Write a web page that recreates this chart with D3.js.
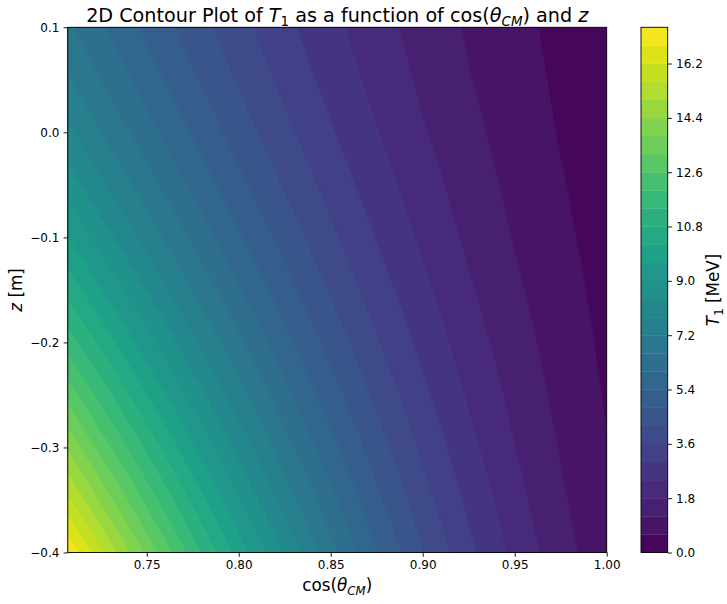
<!DOCTYPE html>
<html>
<head>
<meta charset="utf-8">
<script src="https://cdn.jsdelivr.net/npm/d3@7"></script>
<style>
  html, body { margin: 0; padding: 0; background: #fff; }
  svg text { font-family: "DejaVu Sans", sans-serif; fill: #000; }
</style>
</head>
<body>
<svg id="chart" width="727" height="604"></svg>
<script>
// Sample columns: cos(theta_CM)
const cosTheta = [0.7071, 0.725, 0.75, 0.775, 0.80, 0.825, 0.85, 0.875, 0.90, 0.925, 0.95, 0.975, 1.00];
// Sample rows: z in metres, top to bottom
const zPos = [0.100, 0.075, 0.050, 0.025, 0.000, -0.025, -0.050, -0.075, -0.100, -0.125, -0.150,
              -0.175, -0.200, -0.225, -0.250, -0.275, -0.300, -0.325, -0.350, -0.375, -0.400];

// T1 [MeV] along each row of z (one value per cos(theta_CM) column)
const t1_z0100  = [6.72, 6.10, 5.28, 4.52, 3.81, 3.16, 2.57, 2.03, 1.55, 1.13, 0.76, 0.45, 0.19];
const t1_z0075  = [6.98, 6.34, 5.49, 4.70, 3.96, 3.29, 2.67, 2.12, 1.62, 1.18, 0.80, 0.47, 0.21];
const t1_z0050  = [7.27, 6.60, 5.72, 4.90, 4.13, 3.43, 2.79, 2.21, 1.69, 1.23, 0.84, 0.50, 0.22];
const t1_z0025  = [7.59, 6.89, 5.97, 5.11, 4.32, 3.59, 2.92, 2.32, 1.77, 1.30, 0.88, 0.53, 0.24];
const t1_z0000  = [7.94, 7.21, 6.25, 5.35, 4.52, 3.76, 3.06, 2.43, 1.86, 1.36, 0.93, 0.56, 0.26];
const t1_zm0025 = [8.32, 7.55, 6.55, 5.61, 4.74, 3.94, 3.21, 2.55, 1.96, 1.44, 0.98, 0.60, 0.28];
const t1_zm0050 = [8.72, 7.92, 6.87, 5.88, 4.97, 4.14, 3.37, 2.68, 2.06, 1.51, 1.04, 0.64, 0.31];
const t1_zm0075 = [9.15, 8.31, 7.21, 6.18, 5.22, 4.35, 3.55, 2.82, 2.17, 1.60, 1.10, 0.68, 0.33];
const t1_zm0100 = [9.61, 8.73, 7.57, 6.49, 5.49, 4.57, 3.73, 2.97, 2.29, 1.68, 1.16, 0.72, 0.36];
const t1_zm0125 = [10.10, 9.18, 7.96, 6.82, 5.77, 4.81, 3.92, 3.13, 2.41, 1.78, 1.23, 0.77, 0.39];
const t1_zm0150 = [10.61, 9.64, 8.37, 7.18, 6.07, 5.06, 4.13, 3.29, 2.54, 1.88, 1.30, 0.81, 0.42];
const t1_zm0175 = [11.16, 10.14, 8.80, 7.55, 6.39, 5.32, 4.35, 3.47, 2.68, 1.98, 1.38, 0.87, 0.45];
const t1_zm0200 = [11.73, 10.66, 9.25, 7.93, 6.72, 5.60, 4.58, 3.65, 2.82, 2.09, 1.46, 0.92, 0.48];
const t1_zm0225 = [12.33, 11.20, 9.72, 8.34, 7.07, 5.89, 4.82, 3.84, 2.97, 2.21, 1.54, 0.97, 0.51];
const t1_zm0250 = [12.95, 11.77, 10.22, 8.77, 7.43, 6.19, 5.07, 4.05, 3.13, 2.33, 1.63, 1.03, 0.55];
const t1_zm0275 = [13.61, 12.37, 10.74, 9.22, 7.81, 6.51, 5.33, 4.26, 3.30, 2.45, 1.72, 1.09, 0.58];
const t1_zm0300 = [14.29, 12.99, 11.28, 9.68, 8.20, 6.84, 5.60, 4.48, 3.47, 2.58, 1.81, 1.16, 0.62];
const t1_zm0325 = [15.00, 13.64, 11.84, 10.17, 8.62, 7.19, 5.89, 4.71, 3.65, 2.72, 1.91, 1.22, 0.66];
const t1_zm0350 = [15.74, 14.31, 12.43, 10.67, 9.04, 7.55, 6.18, 4.94, 3.84, 2.86, 2.01, 1.29, 0.70];
const t1_zm0375 = [16.51, 15.01, 13.03, 11.19, 9.49, 7.92, 6.49, 5.19, 4.03, 3.01, 2.12, 1.36, 0.75];
const t1_zm0400 = [17.30, 15.73, 13.66, 11.73, 9.95, 8.31, 6.80, 5.45, 4.23, 3.16, 2.23, 1.44, 0.79];

// Filled contour levels [MeV]
const levels = [0.0, 0.6, 1.2, 1.8, 2.4, 3.0, 3.6, 4.2, 4.8, 5.4, 6.0, 6.6, 7.2, 7.8, 8.4,
                9.0, 9.6, 10.2, 10.8, 11.4, 12.0, 12.6, 13.2, 13.8, 14.4, 15.0, 15.6, 16.2, 16.8, 17.4];

// Tick values
const xTicks = [0.75, 0.80, 0.85, 0.90, 0.95, 1.00];
const yTicks = [0.1, 0.0, -0.1, -0.2, -0.3, -0.4];
const cbarTicks = [0.0, 1.8, 3.6, 5.4, 7.2, 9.0, 10.8, 12.6, 14.4, 16.2];

const rows = [t1_z0100, t1_z0075, t1_z0050, t1_z0025, t1_z0000, t1_zm0025, t1_zm0050,
              t1_zm0075, t1_zm0100, t1_zm0125, t1_zm0150, t1_zm0175, t1_zm0200, t1_zm0225,
              t1_zm0250, t1_zm0275, t1_zm0300, t1_zm0325, t1_zm0350, t1_zm0375, t1_zm0400];
const values = rows.flat();

const svg = d3.select("#chart");

// Layout
const plot = { left: 67.8, right: 606.7, top: 27.3, bottom: 552.5 };
const cbar = { left: 641, right: 667.7 };
const tickFont = 12, labelFont = 16.8, titleFont = 19.2;
const tickLen = 4.2, tickPad = 4.2;

const x = d3.scaleLinear().domain([0.7071, 1.0]).range([plot.left, plot.right]);
const y = d3.scaleLinear().domain([-0.4, 0.1]).range([plot.bottom, plot.top]);
const cy = d3.scaleLinear().domain([levels[0], levels[levels.length - 1]]).range([plot.bottom, plot.top]);

const vmin = levels[0], vmax = levels[levels.length - 1];
const bandColor = i => d3.interpolateViridis(((levels[i] + levels[i + 1]) / 2 - vmin) / (vmax - vmin));

// Grid index -> data coordinate (sample k sits at grid coordinate k + 0.5)
const gxToCos = d3.scaleLinear().domain(cosTheta.map((_, i) => i + 0.5)).range(cosTheta);
const gyToZ = d3.scaleLinear().domain(zPos.map((_, j) => j + 0.5)).range(zPos);
const toScreen = d3.geoTransform({
  point(px, py) { this.stream.point(x(gxToCos(px)), y(gyToZ(py))); }
});
const path = d3.geoPath(toScreen);

svg.append("clipPath").attr("id", "plot-clip")
  .append("rect")
  .attr("x", plot.left).attr("y", plot.top)
  .attr("width", plot.right - plot.left).attr("height", plot.bottom - plot.top);

const bands = d3.contours()
  .size([cosTheta.length, zPos.length])
  .thresholds(levels.slice(0, -1))(values);

svg.append("g").attr("clip-path", "url(#plot-clip)")
  .selectAll("path")
  .data(bands)
  .join("path")
  .attr("d", path)
  .attr("fill", (d, i) => bandColor(i))
  .attr("stroke", (d, i) => bandColor(i))
  .attr("stroke-width", 0.4);

// Axes
function styleAxis(g) {
  g.select(".domain").remove();
  g.selectAll(".tick line").attr("stroke", "#000").attr("stroke-width", 0.9);
  g.selectAll(".tick text").attr("font-size", tickFont).attr("font-family", "DejaVu Sans").attr("fill", "#000");
}

svg.append("g")
  .attr("transform", `translate(0,${plot.bottom})`)
  .call(d3.axisBottom(x).tickValues(xTicks).tickFormat(d3.format(".2f"))
    .tickSize(tickLen).tickPadding(tickPad))
  .call(styleAxis);

svg.append("g")
  .attr("transform", `translate(${plot.left},0)`)
  .call(d3.axisLeft(y).tickValues(yTicks).tickFormat(d3.format(".1f"))
    .tickSize(tickLen).tickPadding(tickPad))
  .call(styleAxis);

svg.append("rect")
  .attr("x", plot.left).attr("y", plot.top)
  .attr("width", plot.right - plot.left).attr("height", plot.bottom - plot.top)
  .attr("fill", "none").attr("stroke", "#000").attr("stroke-width", 0.9);

// Colour bar
svg.append("g").selectAll("rect")
  .data(d3.range(levels.length - 1))
  .join("rect")
  .attr("x", cbar.left)
  .attr("width", cbar.right - cbar.left)
  .attr("y", i => cy(levels[i + 1]))
  .attr("height", i => cy(levels[i]) - cy(levels[i + 1]) + 0.3)
  .attr("fill", i => bandColor(i));

svg.append("g")
  .attr("transform", `translate(${cbar.right},0)`)
  .call(d3.axisRight(cy).tickValues(cbarTicks).tickFormat(d3.format(".1f"))
    .tickSize(tickLen).tickPadding(tickPad))
  .call(styleAxis);

svg.append("rect")
  .attr("x", cbar.left).attr("y", plot.top)
  .attr("width", cbar.right - cbar.left).attr("height", plot.bottom - plot.top)
  .attr("fill", "none").attr("stroke", "#000").attr("stroke-width", 0.9);

// Text with italic symbols and subscripts
function richText(g, parts, size) {
  const t = g.append("text").attr("font-size", size);
  let shifted = false;
  const shift = 0.22 * size;
  parts.forEach(p => {
    const s = t.append("tspan").text(p.t);
    if (p.i) s.attr("font-style", "italic");
    if (p.sub) {
      s.attr("font-size", size * 0.7);
      if (!shifted) { s.attr("dy", shift); shifted = true; }
    } else if (shifted) {
      s.attr("dy", -shift); shifted = false;
    }
  });
  return t;
}

richText(svg.append("g"), [
  { t: "2D Contour Plot of " }, { t: "T", i: true }, { t: "1", sub: true },
  { t: " as a function of cos(" }, { t: "θ", i: true }, { t: "CM", i: true, sub: true },
  { t: ") and " }, { t: "z", i: true }
], titleFont)
  .attr("x", (plot.left + plot.right) / 2).attr("y", 22)
  .attr("text-anchor", "middle");

richText(svg.append("g"), [
  { t: "cos(" }, { t: "θ", i: true }, { t: "CM", i: true, sub: true }, { t: ")" }
], labelFont)
  .attr("x", (plot.left + plot.right) / 2).attr("y", 591)
  .attr("text-anchor", "middle");

richText(svg.append("g").attr("transform", `translate(22,${(plot.top + plot.bottom) / 2}) rotate(-90)`), [
  { t: "z", i: true }, { t: " [m]" }
], labelFont)
  .attr("text-anchor", "middle");

richText(svg.append("g").attr("transform", `translate(719,${(plot.top + plot.bottom) / 2}) rotate(-90)`), [
  { t: "T", i: true }, { t: "1", sub: true }, { t: " [MeV]" }
], labelFont)
  .attr("text-anchor", "middle");
</script>
</body>
</html>
